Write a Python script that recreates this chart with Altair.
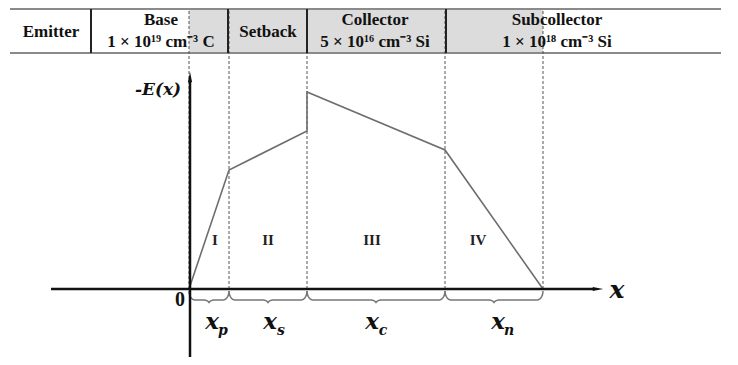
import altair as alt
import pandas as pd
import numpy as np

# ---- data (x in position units from the origin, E = -E(x) in field units) ----
prof_x = [0, 40, 118, 118, 256, 354]
prof_E = [0, 119, 158, 197, 139, 0]
bounds = [0, 40, 118, 256, 354]
regions = ["I", "II", "III", "IV"]
region_label_x = [26, 79, 183, 289]
sub_names = ["p", "s", "c", "n"]
sub_label_x = [23, 81, 183, 309]

layers = ["Emitter", "Base", "Setback", "Collector", "Subcollector"]
layer_doping = ["", "1 × 10¹⁹ cm⁻³ C", "", "5 × 10¹⁶ cm⁻³ Si", "1 × 10¹⁸ cm⁻³ Si"]
layer_label_x = [-138, -28, 79, 186, 368]
header_edges = [-179, -98, 39, 118, 257, 532]
shade_range = [0, 354]

FONT = "'Liberation Serif', 'Times New Roman', serif"
FONT_IT = "'DejaVu Serif', serif"
xs = alt.Scale(domain=[-181, 541], nice=False, zero=False)
ys = alt.Scale(domain=[-68, 281], nice=False, zero=False)
X = lambda f="x": alt.X(f"{f}:Q", scale=xs, axis=None)
Y = lambda f="E": alt.Y(f"{f}:Q", scale=ys, axis=None)

HEAD_TOP, HEAD_BOT = 280, 236

# header shading
shade = alt.Chart(pd.DataFrame({"x": [shade_range[0]], "x2": [shade_range[1]],
                                "E": [HEAD_BOT], "E2": [HEAD_TOP]})).mark_rect(
    color="#dcdcdc").encode(x=X(), x2="x2:Q", y=Y(), y2="E2:Q")

# header horizontal lines
hlines = alt.Chart(pd.DataFrame({"x": [header_edges[0]] * 2, "x2": [header_edges[-1]] * 2,
                                 "E": [HEAD_TOP, HEAD_BOT]})).mark_rule(
    color="#8a8a8a", strokeWidth=2).encode(x=X(), x2="x2:Q", y=Y())

# header vertical separators
vsep = alt.Chart(pd.DataFrame({"x": header_edges[1:-1], "E": [HEAD_BOT] * 4,
                               "E2": [HEAD_TOP] * 4})).mark_rule(
    color="#222", strokeWidth=2).encode(x=X(), y=Y(), y2="E2:Q")

# header labels
single = [i for i, d in enumerate(layer_doping) if d == ""]
double = [i for i, d in enumerate(layer_doping) if d != ""]
hdf = pd.DataFrame({
    "x": [layer_label_x[i] for i in single] + [layer_label_x[i] for i in double] * 2,
    "E": [257] * len(single) + [269] * len(double) + [247] * len(double),
    "t": [layers[i] for i in single] + [layers[i] for i in double] + [layer_doping[i] for i in double],
})
htext = alt.Chart(hdf).mark_text(font=FONT, fontWeight="bold", fontSize=17,
                                 color="#111", baseline="middle").encode(x=X(), y=Y(), text="t:N")

# dashed boundary lines
dashed = alt.Chart(pd.DataFrame({"x": bounds, "E": [0] * 5, "E2": [HEAD_TOP] * 5})).mark_rule(
    color="#555", strokeWidth=1, strokeDash=[3, 2]).encode(x=X(), y=Y(), y2="E2:Q")

# field profile
profile = alt.Chart(pd.DataFrame({"x": prof_x, "E": prof_E, "i": range(len(prof_x))})).mark_line(
    color="#6e6e6e", strokeWidth=1.6).encode(x=X(), y=Y(), order="i:O")

# axes
xaxis = alt.Chart(pd.DataFrame({"x": [-138], "x2": [405], "E": [0]})).mark_rule(
    color="#111", strokeWidth=2.5).encode(x=X(), x2="x2:Q", y=Y())
yaxis = alt.Chart(pd.DataFrame({"x": [1], "E": [-75], "E2": [208]})).mark_rule(
    color="#111", strokeWidth=2.5).encode(x=X(), y=Y(), y2="E2:Q")
arr_r = alt.Chart(pd.DataFrame({"x": [409], "E": [0]})).mark_point(
    shape="M -1 -0.4 L 1 0 L -1 0.4 Z", filled=True, size=110, color="#111", opacity=1).encode(x=X(), y=Y())
arr_u = alt.Chart(pd.DataFrame({"x": [1], "E": [212]})).mark_point(
    shape="M -0.4 1 L 0 -1 L 0.4 1 Z", filled=True, size=110, color="#111", opacity=1).encode(x=X(), y=Y())

# braces below the x axis
rows = []
top, d1, d2, rx = -2, 9, 12, 6
for k in range(4):
    a, b = bounds[k], bounds[k + 1]
    m = (a + b) / 2
    pts = []
    th = np.linspace(0, np.pi / 2, 8)
    pts += [(a + rx - rx * np.cos(t), top - d1 * np.sin(t)) for t in th]
    pts += [(m - rx + rx * np.sin(t), top - d1 - (d2 - d1) * (1 - np.cos(t))) for t in th]
    pts += [(m + rx - rx * np.sin(t), top - d1 - (d2 - d1) * (1 - np.cos(t))) for t in th[::-1]]
    pts += [(b - rx + rx * np.cos(t), top - d1 * np.sin(t)) for t in th[::-1]]
    for j, (px, pe) in enumerate(pts):
        rows.append({"x": px, "E": pe, "i": j, "seg": k})
braces = alt.Chart(pd.DataFrame(rows)).mark_line(color="#777", strokeWidth=1.5).encode(
    x=X(), y=Y(), order="i:Q", detail="seg:N")

# region labels
rlab = alt.Chart(pd.DataFrame({"x": region_label_x, "E": [49] * 4, "t": regions})).mark_text(
    font=FONT, fontWeight="bold", fontSize=15, color="#222").encode(x=X(), y=Y(), text="t:N")

# subscripted width labels
xmain = alt.Chart(pd.DataFrame({"x": sub_label_x, "E": [-33] * 4, "t": ["x"] * 4})).mark_text(
    font=FONT_IT, fontWeight="bold", fontStyle="italic", fontSize=23, color="#111").encode(
    x=X(), y=Y(), text="t:N")
xsub = alt.Chart(pd.DataFrame({"x": [v + 11 for v in sub_label_x], "E": [-42] * 4, "t": sub_names})).mark_text(
    font=FONT_IT, fontWeight="bold", fontStyle="italic", fontSize=14, color="#111").encode(
    x=X(), y=Y(), text="t:N")

# axis labels
alab = pd.DataFrame({"x": [-31, -9, 428], "E": [199, -11, -1], "t": ["-E(x)", "0", "x"],
                     "s": [17, 20, 25], "st": ["italic", "normal", "italic"]})
alab_it = alt.Chart(alab[alab.st == "italic"]).mark_text(
    font=FONT_IT, fontWeight="bold", fontStyle="italic", color="#111").encode(
    x=X(), y=Y(), text="t:N", size=alt.Size("s:Q", scale=None, legend=None))
alab_n = alt.Chart(alab[alab.st == "normal"]).mark_text(
    font=FONT, fontWeight="bold", color="#111").encode(
    x=X(), y=Y(), text="t:N", size=alt.Size("s:Q", scale=None, legend=None))

chart = alt.layer(shade, hlines, dashed, vsep, htext, profile, braces, xaxis, yaxis, arr_r, arr_u,
                  rlab, xmain, xsub, alab_it, alab_n).properties(
    width=722, height=349, autosize=alt.AutoSizeParams(type="none"), padding=0,
    background="white").configure_view(stroke=None)

chart.save("out.html", embed_options={"renderer": "svg", "actions": False})
